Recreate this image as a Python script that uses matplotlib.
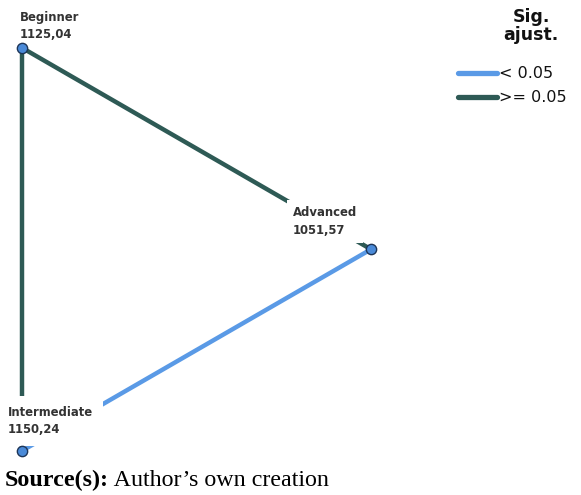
import numpy as np
import matplotlib
matplotlib.use("Agg")
import matplotlib.pyplot as plt

# ---- data ----
nodes = ["Advanced", "Beginner", "Intermediate"]
mean_ranks = ["1051,57", "1125,04", "1150,24"]
edges_from = ["Beginner", "Beginner", "Advanced"]
edges_to = ["Intermediate", "Advanced", "Intermediate"]
edges_sig = [False, False, True]  # True: adj. sig < 0.05
legend_labels = ["< 0.05", ">= 0.05"]
legend_title = "Sig.\najust."
source_bold = "Source(s):"
source_text = " Author\u2019s own creation"

BLUE = "#5a9ae6"
DARK = "#2e5a55"

fig = plt.figure(figsize=(5.81, 4.95), dpi=100)
ax = fig.add_axes([0, 0, 1, 1])
ax.set_xlim(0, 581)
ax.set_ylim(495, 0)
ax.axis("off")

# circular layout (equilateral triangle); y axis is inverted
cx, cy, r = 138.3, 249.3, 232.7
angles = np.deg2rad([0, 120, 240])  # Advanced (right), Beginner (top-left), Intermediate (bottom-left)
pos = {n: (cx + r * np.cos(a), cy - r * np.sin(a)) for n, a in zip(nodes, angles)}

for f, t, s in zip(edges_from, edges_to, edges_sig):
    x0, y0 = pos[f]
    x1, y1 = pos[t]
    ax.plot([x0, x1], [y0, y1], color=BLUE if s else DARK, lw=3.2,
            solid_capstyle="butt", zorder=1)

label_offsets = {"Beginner": (-2, -37, 0.3), "Advanced": (-78, -43, 0.5),
                 "Intermediate": (-14, -45, 0.85)}
for n, v in zip(nodes, mean_ranks):
    x, y = pos[n]
    dx, dy, pad = label_offsets[n]
    ax.text(x + dx, y + dy, f"{n}\n{v}", ha="left", va="top", fontsize=8.4,
            fontweight="bold", color="#333333", linespacing=1.45,
            bbox=dict(boxstyle=f"square,pad={pad}", fc="white", ec="none"), zorder=2)
    ax.scatter([x], [y], s=55, facecolor="#4a8ad8", edgecolor="#1d3557",
               linewidth=1.0, zorder=3)

# legend
ax.text(531, 8, legend_title, ha="center", va="top", fontsize=12.5,
        fontweight="bold", color="#111111", linespacing=1.0)
for i, (lab, col) in enumerate(zip(legend_labels, [BLUE, DARK])):
    yy = 73 + 24 * i
    ax.plot([458, 497], [yy, yy], color=col, lw=3.8, solid_capstyle="round")
    ax.text(499, yy, lab, ha="left", va="center", fontsize=11.5, color="#111111")

t1 = ax.text(5, 480, source_bold, ha="left", va="center", fontsize=17.3,
             fontweight="bold", family="Liberation Serif")
ax.annotate(source_text, xy=(1, 0.5), xycoords=t1, ha="left", va="center",
            fontsize=17.3, family="Liberation Serif")

fig.savefig("out.png", dpi=100)
